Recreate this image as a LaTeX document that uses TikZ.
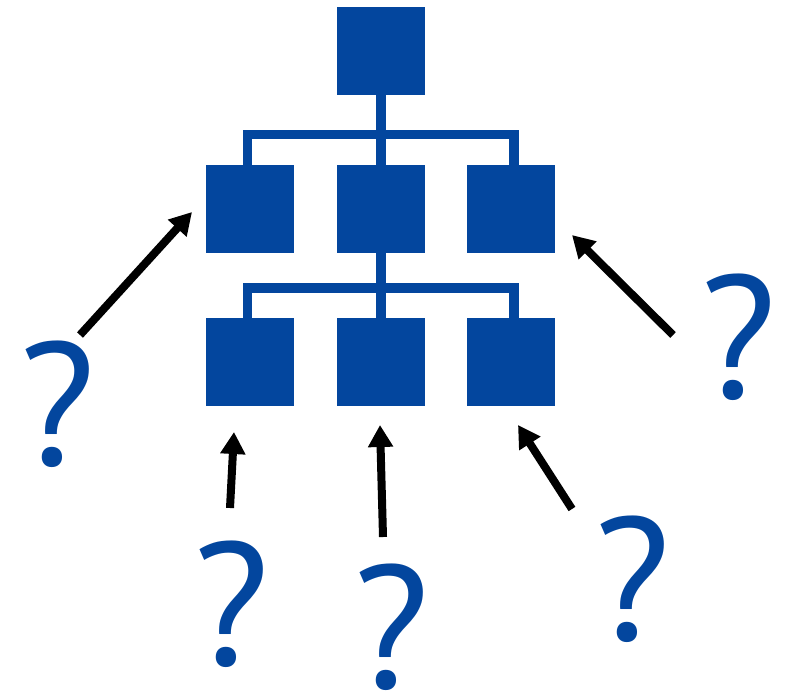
\documentclass[tikz,border=0pt]{standalone}
\usepackage{fontspec}
\newfontfamily\qfont{PT Sans}
\usetikzlibrary{arrows.meta}
\definecolor{orgblue}{RGB}{3,70,158}
\tikzset{
  unitbox/.style={fill=orgblue, draw=none, minimum width=88pt, minimum height=88pt, inner sep=0pt, outer sep=0pt},
  link/.style={draw=orgblue, line width=9.5pt, line join=miter},
  pointer/.style={draw=black, line width=8pt, -{Triangle[width=24pt,length=22pt]}},
  qmark/.style={text=orgblue, inner sep=0pt, anchor=base, text depth=0pt, font=\qfont\fontsize{175}{175}\selectfont}
}
\begin{document}
\begin{tikzpicture}[x=1pt,y=-1pt]
\useasboundingbox (0,0) rectangle (792,691);
% boxes
\node[unitbox] (top) at (381,51) {};
\node[unitbox] (ml) at (250.3,209.2) {};
\node[unitbox] (mm) at (381,209.2) {};
\node[unitbox] (mr) at (511.3,209.2) {};
\node[unitbox] (bl) at (250.3,362) {};
\node[unitbox] (bm) at (381,362) {};
\node[unitbox] (br) at (511.3,362) {};
% tree connectors
\coordinate (bar1l) at (247.5,134.7);
\coordinate (bar1r) at (514,134.7);
\coordinate (bar2l) at (247.5,288);
\coordinate (bar2r) at (514,288);
\draw[link] (top.south) -- (mm.north);
\draw[link] (bar1l |- ml.north) -- (bar1l) -- (bar1r) -- (bar1r |- mr.north);
\draw[link] (mm.south) -- (bm.north);
\draw[link] (bar2l |- bl.north) -- (bar2l) -- (bar2r) -- (bar2r |- br.north);
% question marks
\node[qmark] (q1) at (57.5,465) {?};
\node[qmark] (q2) at (738.5,398) {?};
\node[qmark] (q3) at (231.5,665) {?};
\node[qmark] (q4) at (391.5,688) {?};
\node[qmark] (q5) at (633,640) {?};
% arrows
\coordinate (a1s) at (80,335);   \coordinate (a1e) at (192,212);
\coordinate (a2s) at (673,335);  \coordinate (a2e) at (572,235);
\coordinate (a3s) at (230,508);  \coordinate (a3e) at (234,432);
\coordinate (a4s) at (383,537);  \coordinate (a4e) at (380,425);
\coordinate (a5s) at (572,509);  \coordinate (a5e) at (518,425);
\draw[pointer] (a1s) -- (a1e);
\draw[pointer] (a2s) -- (a2e);
\draw[pointer] (a3s) -- (a3e);
\draw[pointer] (a4s) -- (a4e);
\draw[pointer] (a5s) -- (a5e);
\end{tikzpicture}
\end{document}
